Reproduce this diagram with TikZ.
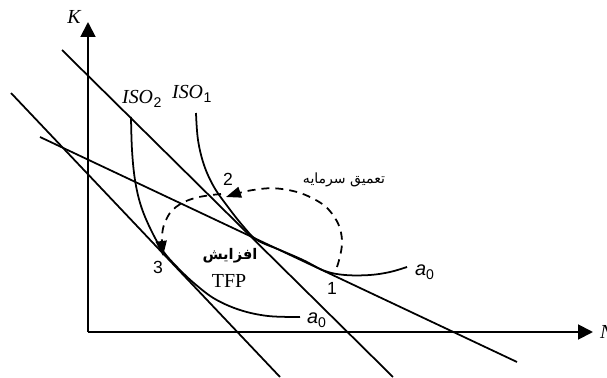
\documentclass[tikz,border=0pt]{standalone}
\usepackage{fontspec}
\setmainfont{Liberation Serif}
\newfontfamily\sansf{Liberation Sans}
\newfontfamily\arabicfont[Script=Arabic]{DejaVu Sans}
\TeXXeTstate=1
\usetikzlibrary{arrows.meta}

\newcommand{\isolab}[1]{\textit{ISO}\kern0.5pt\raisebox{-0.45ex}{\sansf\fontsize{12}{14}\selectfont #1}}
\newcommand{\azero}{{\sansf\itshape a}\raisebox{-0.5ex}{\sansf\fontsize{12}{14}\selectfont 0}}

\begin{document}
\begin{tikzpicture}[x=0.3mm, y=0.3mm,
    axis/.style={line width=1.6pt, -{Triangle[length=4.5mm, width=4.5mm]}},
    cost/.style={line width=1.5pt},
    iso/.style={line width=1.5pt},
    move/.style={line width=1.5pt, dash pattern=on 2.4mm off 1.8mm,
                 -{Triangle[length=4.5mm, width=3.3mm]}},
    lbl/.style={font=\fontsize{17}{20}\selectfont},
    num/.style={font=\sansf\fontsize{15}{18}\selectfont}]

\useasboundingbox (0,0) rectangle (607,377);

    % Axes
    \coordinate (O) at (88,45);
    \coordinate (Ktip) at (88,355);
    \coordinate (Ntip) at (593,45);
    \draw[axis] (O) -- (Ktip);
    \draw[axis] (O) -- (Ntip);
    \node[font=\fontsize{17}{20}\selectfont\itshape] (lblK) at (74,360) {K};
    \node[font=\fontsize{17}{20}\selectfont\itshape, anchor=west] (lblN) at (596,45) {N};

    % Isocost lines
    \coordinate (c1a) at (11,284);  \coordinate (c1b) at (280,0);
    \coordinate (c2a) at (62,327);  \coordinate (c2b) at (393,0);
    \coordinate (c3a) at (40,240);  \coordinate (c3b) at (517,15);
    \draw[cost] (c1a) -- (c1b);
    \draw[cost] (c2a) -- (c2b);
    \draw[cost] (c3a) -- (c3b);

    % Isoquants
    \draw[iso] plot[smooth, tension=0.6] coordinates {(196,264) (198,237) (204,212)
        (214,190) (228,170) (243,151) (257,137) (280,127) (303,117) (325,106)
        (345,102) (370,102) (390,105) (407,110)};
    \draw[iso] plot[smooth, tension=0.6] coordinates {(131,260) (132,227) (135,197)
        (141,171) (151,147) (163,126) (178,109) (195,93) (215,78) (240,67)
        (268,61) (300,60)};

    % Points on the curves
    \coordinate (p1) at (337,110);
    \coordinate (p2) at (226,180);
    \coordinate (p2b) at (221,183);
    \coordinate (p3) at (163,121);

    % Dashed moves 1 -> 2 -> 3
    \draw[move] plot[smooth, tension=0.7] coordinates {(p1) (342,137) (333,162)
        (312,179) (282,188) (253,187) (p2)};
    \draw[move] plot[smooth, tension=0.7] coordinates {(p2b) (195,179) (176,170)
        (166,157) (162,141) (p3)};

    % Labels
    \node[lbl, anchor=base west] (isoTwo) at (118,274) {\isolab{2}};
    \node[lbl, anchor=base west] (isoOne) at (168,279) {\isolab{1}};
    \node[num] (numOne) at (332,89) {1};
    \node[num] (numTwo) at (228,198) {2};
    \node[num] (numThree) at (158,110) {3};
    \node[lbl, anchor=west] (aUp) at (411,105) {\azero};
    \node[lbl, anchor=west] (aLow) at (303,57) {\azero};
    \node[font=\arabicfont\fontsize{12}{14}\selectfont] (deep) at (344,197)
        {\beginR تعمیق سرمایه\endR};
    \node[font=\arabicfont\bfseries\fontsize{12.5}{14}\selectfont] (rise) at (230,121)
        {\beginR افزایش\endR};
    \node[lbl] (tfp) at (229,96) {TFP};

\end{tikzpicture}
\end{document}
